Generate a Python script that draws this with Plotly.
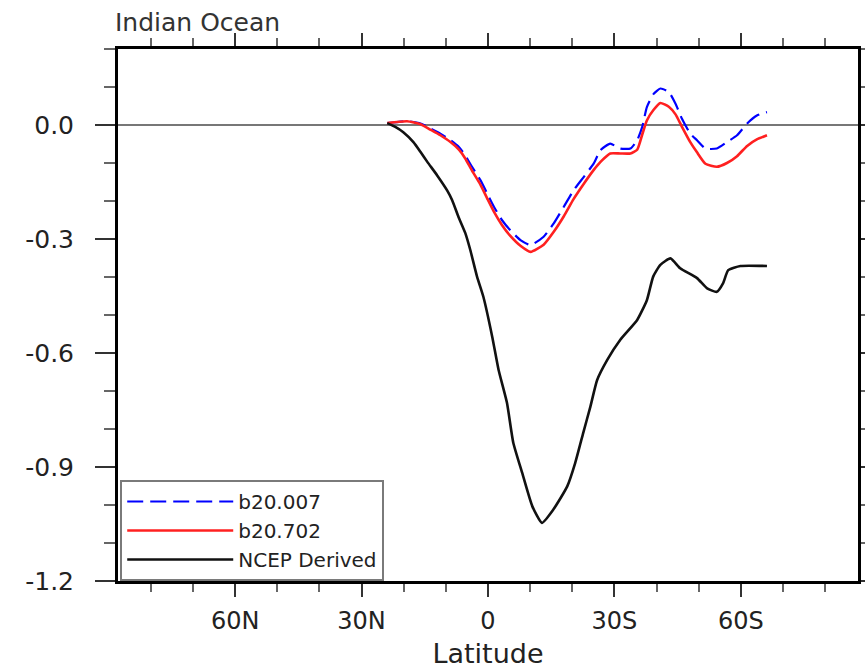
import plotly.graph_objects as go

# ---- data (latitude in degrees north; south negative) ----
lat_model = [23.9, 19.2, 16.0, 13.7, 11.3, 8.9, 6.9, 5.4, 3.8, 1.8, 0.2, -1.4, -3.3, -5.3,
             -7.7, -10.1, -13.2, -15.6, -18.0, -20.3, -22.7, -25.1, -26.7, -29.0, -31.4,
             -33.8, -35.4, -36.6, -37.7, -39.3, -40.9, -42.9, -44.5, -46.0, -48.0, -49.6,
             -51.6, -54.3, -56.7, -59.1, -61.5, -63.8, -66.2]
b20_007 = [0.005, 0.010, 0.004, -0.009, -0.023, -0.040, -0.058, -0.080, -0.110, -0.145,
           -0.180, -0.215, -0.250, -0.277, -0.303, -0.316, -0.294, -0.259, -0.215, -0.172,
           -0.137, -0.101, -0.066, -0.049, -0.062, -0.062, -0.040, -0.005, 0.047, 0.082,
           0.096, 0.087, 0.056, 0.017, -0.023, -0.040, -0.062, -0.062, -0.045, -0.027,
           0.004, 0.025, 0.034]
b20_702 = [0.005, 0.010, 0.002, -0.012, -0.027, -0.045, -0.065, -0.088, -0.120, -0.157,
           -0.193, -0.228, -0.263, -0.292, -0.318, -0.334, -0.315, -0.281, -0.240, -0.195,
           -0.155, -0.118, -0.097, -0.075, -0.075, -0.075, -0.065, -0.025, 0.012, 0.040,
           0.058, 0.048, 0.028, -0.004, -0.045, -0.072, -0.102, -0.110, -0.100, -0.082,
           -0.055, -0.038, -0.027]
lat_ncep = [23.9, 22.0, 20.1, 17.7, 16.0, 14.4, 12.1, 9.7, 8.5, 7.0, 5.4, 4.2, 2.6, 1.1,
            -1.0, -2.5, -4.5, -6.0, -8.1, -10.5, -12.8, -15.5, -18.8, -20.7, -22.6, -24.3,
            -25.9, -28.3, -31.4, -35.4, -37.7, -39.2, -40.9, -43.3, -45.6, -49.6, -52.0,
            -54.3, -55.8, -57.0, -59.9, -66.2]
ncep = [0.005, -0.005, -0.019, -0.045, -0.071, -0.097, -0.132, -0.172, -0.198, -0.242,
        -0.284, -0.329, -0.399, -0.452, -0.557, -0.644, -0.731, -0.836, -0.915, -1.003,
        -1.047, -1.012, -0.951, -0.889, -0.810, -0.741, -0.671, -0.618, -0.565, -0.513,
        -0.461, -0.399, -0.368, -0.351, -0.377, -0.403, -0.430, -0.439, -0.416, -0.382,
        -0.371, -0.371]

series_names = ["b20.007", "b20.702", "NCEP Derived"]
x_tickvals = [60, 30, 0, -30, -60]
x_ticktext = ["60N", "30N", "0", "30S", "60S"]
y_tickvals = [0.0, -0.3, -0.6, -0.9, -1.2]
y_ticktext = ["0.0", "-0.3", "-0.6", "-0.9", "-1.2"]

FONT = "DejaVu Sans"

fig = go.Figure()
fig.add_trace(go.Scatter(x=lat_model, y=b20_007, name=series_names[0], mode="lines",
                         line=dict(color="#0000ff", width=2.2, dash="16px,7px",
                                   shape="spline", smoothing=0.5)))
fig.add_trace(go.Scatter(x=lat_model, y=b20_702, name=series_names[1], mode="lines",
                         line=dict(color="#ff2020", width=2.6, shape="spline", smoothing=0.5)))
fig.add_trace(go.Scatter(x=lat_ncep, y=ncep, name=series_names[2], mode="lines",
                         line=dict(color="#111111", width=2.6, shape="spline", smoothing=0.5)))

fig.update_layout(
    width=865, height=669,
    margin=dict(l=118, r=7, t=49, b=88, autoexpand=False),
    paper_bgcolor="white", plot_bgcolor="white",
    font=dict(family=FONT, color="#222222"),
    showlegend=True,
    legend=dict(x=0.003, y=0.0, xanchor="left", yanchor="bottom",
                bgcolor="white", bordercolor="#7a7a7a", borderwidth=2,
                font=dict(family=FONT, size=20, color="#222222"),
                itemwidth=106, tracegroupgap=0, traceorder="normal"),
    annotations=[dict(text="Indian Ocean", xref="paper", yref="paper", x=0, y=1,
                      xanchor="left", yanchor="bottom", xshift=-5, yshift=10, showarrow=False,
                      font=dict(family=FONT, size=25, color="#333333"))],
)

fig.update_xaxes(
    range=[87.8, -87.8], tickmode="array", tickvals=x_tickvals, ticktext=x_ticktext,
    showgrid=False, zeroline=False, automargin=False,
    showline=True, linecolor="black", linewidth=3, mirror="allticks",
    ticks="outside", ticklen=13, tickwidth=2, tickcolor="#333333",
    minor=dict(dtick=10, tick0=0, ticks="outside", ticklen=8, tickwidth=1.5, tickcolor="#666666"),
    tickfont=dict(family=FONT, size=24, color="#222222"), ticklabelstandoff=3,
    title=dict(text="Latitude", font=dict(family=FONT, size=27, color="#222222"), standoff=21),
)
fig.update_yaxes(
    range=[-1.2, 0.2], tickmode="array", tickvals=y_tickvals, ticktext=y_ticktext,
    showgrid=False, zeroline=True, zerolinecolor="#777777", zerolinewidth=1.5, automargin=False,
    showline=True, linecolor="black", linewidth=3, mirror="allticks",
    ticks="outside", ticklen=20, tickwidth=2, tickcolor="#333333",
    minor=dict(dtick=0.1, tick0=0, ticks="outside", ticklen=11, tickwidth=1.5, tickcolor="#666666"),
    tickfont=dict(family=FONT, size=25, color="#222222"), ticklabelstandoff=16,
)

fig.write_html("out.html")
